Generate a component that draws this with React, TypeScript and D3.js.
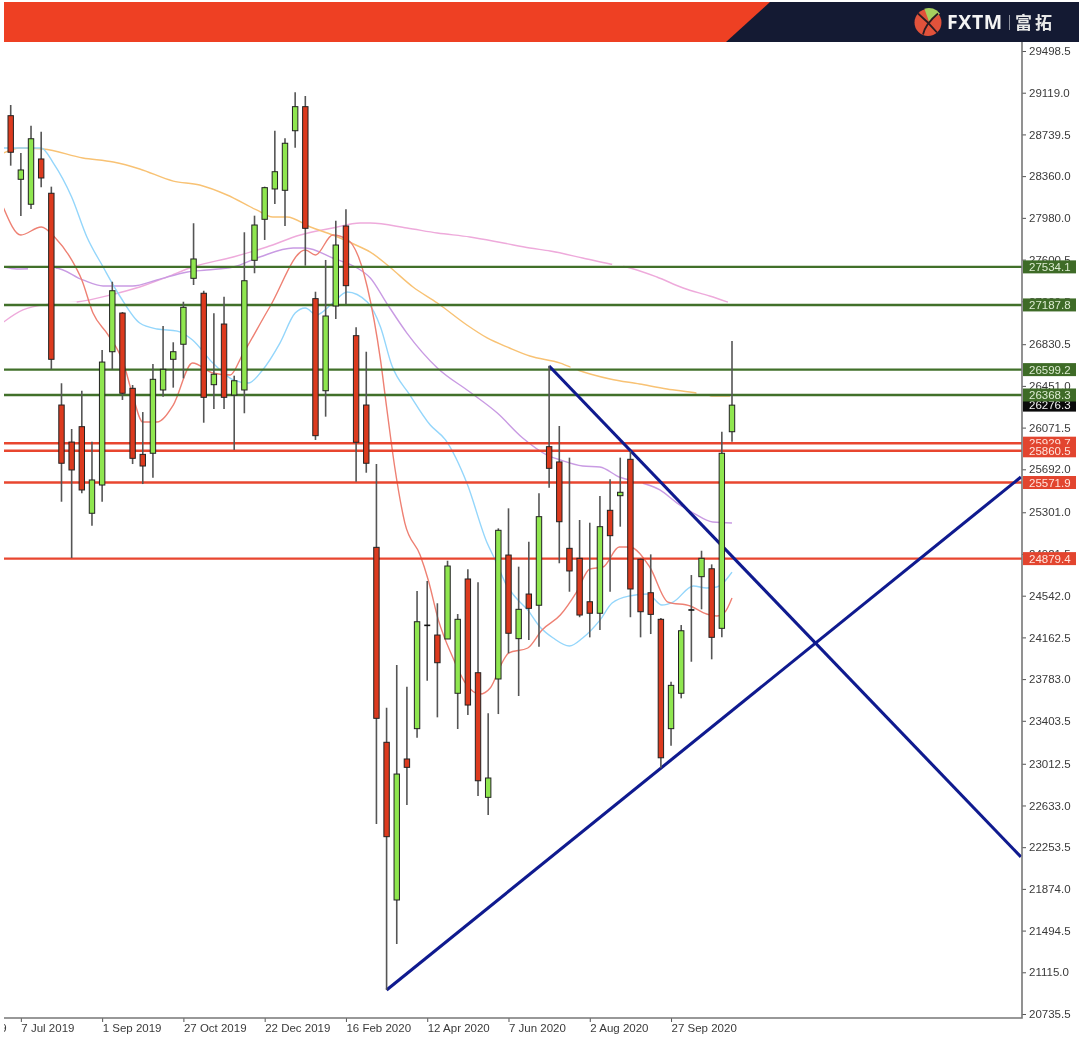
import * as d3 from "d3";
import React, { useEffect, useRef } from "react";

const opens = [
  28910, 28331, 28104, 28516, 28204, 26277, 25940, 26080, 25292, 25549,
  26762, 27114, 26429, 25828, 25838, 26414, 26693, 26830, 27430, 27294,
  26462, 27014, 26368, 26414, 27594, 27967, 28243, 28231, 28773, 28992,
  27245, 26407, 27178, 27906, 26908, 26277, 24982, 23208, 21773, 23056,
  23332, 24272, 24184, 24148, 23654, 24694, 23841, 22707, 23784, 24912,
  24151, 24557, 24455, 25898, 25759, 24973, 24882, 24487, 24382, 25319,
  25452, 25783, 24873, 24569, 24327, 23332, 23654, 24412, 24715, 24787,
  24245, 26034,
];
const closes = [
  28577, 28416, 28700, 28343, 26693, 25747, 25686, 25504, 25595, 26668,
  27317, 26384, 25792, 25722, 26511, 26602, 26762, 27166, 27606, 26347,
  26557, 26347, 26498, 27408, 27915, 28255, 28400, 28659, 28992, 27885,
  25998, 27087, 27733, 27363, 25938, 25747, 23426, 22349, 22919, 22980,
  24305, 24272, 23932, 24812, 24327, 23547, 22858, 22883, 25137, 24200,
  24418, 24427, 25261, 25701, 25215, 24767, 24366, 24382, 25170, 25088,
  25483, 24603, 24396, 24372, 23067, 23726, 24223, 24412, 24882, 24163,
  25838, 26276,
];
const highs = [
  29007, 28570, 28819, 28764, 28264, 26475, 26059, 26407, 25943, 26778,
  27399, 27123, 26459, 26213, 26650, 26996, 26848, 27217, 27931, 27317,
  27112, 27263, 26544, 27849, 28000, 28264, 28773, 28704, 29123, 29089,
  27308, 27597, 27954, 28058, 26984, 26762, 25740, 23523, 23911, 23714,
  24585, 24676, 24473, 24860, 24375, 24782, 24664, 23472, 25155, 25337,
  24806, 25033, 25474, 26635, 26086, 25798, 25231, 25206, 25449, 25601,
  25798, 25861, 24882, 24918, 24339, 23759, 24275, 24730, 24951, 24827,
  26034, 26859,
];
const lows = [
  28455, 27997, 28061, 28258, 26602, 25397, 24885, 25474, 25179, 25397,
  26602, 26323, 25740, 25558, 25616, 26353, 26435, 26520, 27369, 26116,
  26241, 26241, 25868, 26202, 27476, 27779, 28106, 27906, 28619, 27545,
  25959, 26171, 27060, 27196, 25579, 25661, 22464, 20954, 21372, 22637,
  23250, 23768, 23435, 24148, 23329, 23456, 22719, 22546, 23465, 24018,
  23629, 24139, 24078, 25525, 24837, 24578, 24346, 24163, 24230, 24578,
  25170, 24346, 24163, 24193, 22971, 23177, 23608, 23941, 24418, 23963,
  24163, 25943,
];

// moving averages as [week index, price]
const maRed: [number, number][] = [
  [-0.7, 28070], [1, 27824], [3, 27897], [4.4, 27797], [6, 27597], [7, 27415], [8.1, 27114],
  [9.6, 26914], [11.1, 26659], [12, 26368], [13, 26122], [14.4, 26122], [16, 26277], [17.9, 26659],
  [19.9, 26568], [21.6, 26550], [22.8, 26732], [25.5, 27169], [29, 27688], [30, 27642], [31.7, 27824],
  [33.2, 27779], [35.1, 27351], [36.4, 26687], [37, 26259], [37.8, 25713], [38.8, 25203], [40.3, 24912],
  [41.1, 24685], [42.1, 24320], [43.5, 23984], [44.7, 23756], [46.2, 23647], [47.2, 23702], [48.4, 23938],
  [49, 24020], [50.9, 24066], [52.3, 24230], [54.1, 24366], [55.7, 24575], [57, 24785], [58.3, 24803],
  [59.9, 24985], [60.9, 24985], [62.9, 24803], [64.7, 24484], [66.9, 24448], [68.5, 24375], [69.5, 24357],
  [70.3, 24393], [71, 24521],
];
const maBlue: [number, number][] = [
  [-0.7, 28616], [0.2, 28616], [3, 28616], [4.2, 28479], [6, 28170], [7.5, 27806], [9.1, 27533],
  [10.8, 27260], [12.7, 27023], [14.4, 26969], [16.4, 26950], [17.9, 26869], [19.9, 26659], [21.9, 26505],
  [23.4, 26477], [24.8, 26596], [26.5, 26841], [28, 27114], [29, 27160], [30.1, 27096], [31.7, 27205],
  [33.1, 27305], [35.1, 27214], [36.4, 26987], [37.5, 26641], [39.3, 26368], [41.3, 26095], [42.8, 25959],
  [44.9, 25567], [46.9, 25021], [47.7, 24866], [48.7, 24657], [49.5, 24548], [50.9, 24411], [52.1, 24257],
  [53.4, 24157], [55, 24084], [56.3, 24157], [58, 24320], [59.2, 24475], [60.9, 24539], [62.7, 24557],
  [64.1, 24457], [65.2, 24484], [67.2, 24630], [68.5, 24612], [69.5, 24621], [71, 24757],
];
const maOrange: [number, number][] = [
  [-0.7, 28570], [0.9, 28616], [3.2, 28607], [7.1, 28525], [10.1, 28488], [12.7, 28425], [16, 28315],
  [18.6, 28279], [21.3, 28188], [24.2, 28052], [25.8, 27988], [27.2, 27988], [29.5, 27897], [31.7, 27824],
  [34.4, 27715], [35.4, 27669], [37.3, 27533], [39.6, 27351], [42, 27205], [44.9, 27005], [46.9, 26887],
  [49.1, 26796], [51.1, 26723], [54.1, 26659], [55.8, 26596], [59, 26514], [61.9, 26468], [64.6, 26423],
  [67.5, 26386], [69, 26359], [70.8, 26359],
];
const maPurple: [number, number][] = [
  [-0.7, 27533], [0.6, 27515], [4.4, 27524], [7.1, 27415], [9.1, 27360], [12, 27360], [14.4, 27415],
  [17.4, 27487], [19.3, 27506], [21.9, 27533], [24.5, 27624], [27.8, 27706], [29, 27706], [31.7, 27615],
  [34.1, 27524], [35.4, 27433], [37, 27205], [39, 26932], [42, 26614], [45.2, 26395], [47.9, 26204],
  [50.4, 25977], [52.8, 25822], [54.1, 25777], [56.3, 25722], [58, 25713], [59.9, 25622], [62.2, 25567],
  [63.9, 25504], [65.6, 25385], [67.2, 25294], [69.1, 25212], [71, 25203],
];
const maPink: [number, number][] = [
  [-0.7, 27032], [1.2, 27142], [3.9, 27196], [6.5, 27214], [9.8, 27278], [12.7, 27351], [15.4, 27442],
  [17.9, 27533], [21.9, 27624], [25.2, 27715], [28.5, 27824], [31.7, 27888], [34.4, 27933], [35.4, 27933],
  [39, 27888], [42, 27842], [45.2, 27806], [48.5, 27751], [51.1, 27706], [53.1, 27678], [56.3, 27615],
  [59, 27560], [60.6, 27533], [63.6, 27442], [66.2, 27342], [68.8, 27269], [70.6, 27214],
];

const trendDown: [number, number][] = [[53, 26632], [99.44, 22165]];
const trendUp: [number, number][] = [[37, 20954], [99.44, 25622]];

const greenLevels = [27534.1, 27187.8, 26599.2, 26368.3];
const redLevels = [25929.7, 25860.5, 25571.9, 24879.4];
const lastPrice = 26276.3;

// places where the averages are wiped out next to a level line: [price, from week, to week]
const levelGaps = [
  [27534.1, 1.7, 4.4],
  [27187.8, 3.9, 6.5],
  [27534.1, 59.2, 60.3],
  [26599.2, 55.1, 55.8],
  [26368.3, 67.5, 68.8],
  [25571.9, 61.2, 62.2],
];

const priceTicks = [
  29498.5, 29119.0, 28739.5, 28360.0, 27980.0, 27600.5, 27220.5, 26830.5, 26451.0, 26071.5, 25692.0, 25301.0,
  24921.5, 24542.0, 24162.5, 23783.0, 23403.5, 23012.5, 22633.0, 22253.5, 21874.0, 21494.5, 21115.0, 20735.5,
];
const dateTickIndex = [-7, 1, 9, 17, 25, 33, 41, 49, 57, 65];
const dateLabels = [
  "12 May 2019", "7 Jul 2019", "1 Sep 2019", "27 Oct 2019", "22 Dec 2019",
  "16 Feb 2020", "12 Apr 2020", "7 Jun 2020", "2 Aug 2020", "27 Sep 2020",
];

const CONFIG = {
  width: 1080,
  height: 1039,
  left: 4,
  axisX: 1022,
  axisY: 1018,
  font: "'Liberation Sans', sans-serif",
};

const App: React.FC = () => {
  const svgRef = useRef<SVGSVGElement>(null);

  useEffect(() => {
    const svg = d3.select(svgRef.current);
    svg.selectAll("*").remove();

    const x = d3.scaleLinear().domain([0, 71]).range([10.7, 732]);
    const y = d3.scaleLinear().domain([20735.5, 29498.5]).range([1014, 51]);

    svg
      .append("defs")
      .append("clipPath")
      .attr("id", "plot")
      .append("rect")
      .attr("x", CONFIG.left)
      .attr("y", 42)
      .attr("width", CONFIG.axisX - CONFIG.left)
      .attr("height", CONFIG.height - 42);

    const plot = svg.append("g").attr("clip-path", "url(#plot)");

    const line = d3
      .line<[number, number]>()
      .x((d) => x(d[0]))
      .y((d) => y(d[1]))
      .curve(d3.curveMonotoneX);

    const mas: [[number, number][], string][] = [
      [maPink, "#eeaadb"],
      [maPurple, "#c99be3"],
      [maOrange, "#f8c274"],
      [maBlue, "#94d6fb"],
      [maRed, "#ee8073"],
    ];
    mas.forEach(([pts, color]) => {
      plot.append("path").attr("d", line(pts)).attr("fill", "none").attr("stroke", color).attr("stroke-width", 1.4);
    });

    levelGaps.forEach(([price, from, to]) => {
      plot
        .append("line")
        .attr("x1", x(from))
        .attr("x2", x(to))
        .attr("y1", y(price))
        .attr("y2", y(price))
        .attr("stroke", "#fff")
        .attr("stroke-width", 7);
    });

    const levels = (values: number[], color: string) => {
      values.forEach((v) => {
        plot
          .append("line")
          .attr("x1", CONFIG.left)
          .attr("x2", CONFIG.axisX)
          .attr("y1", y(v))
          .attr("y2", y(v))
          .attr("stroke", color)
          .attr("stroke-width", 2.4);
      });
    };
    levels(greenLevels, "#41702a");
    levels(redLevels, "#e8462f");

    [trendDown, trendUp].forEach((pts) => {
      plot
        .append("path")
        .attr("d", d3.line<[number, number]>().x((d) => x(d[0])).y((d) => y(d[1]))(pts))
        .attr("fill", "none")
        .attr("stroke", "#0f1a8f")
        .attr("stroke-width", 3.1);
    });

    // candles
    const candles = plot.append("g");
    opens.forEach((open, i) => {
      const close = closes[i];
      const up = close >= open;
      const cx = x(i);
      candles
        .append("line")
        .attr("x1", cx)
        .attr("x2", cx)
        .attr("y1", y(highs[i]))
        .attr("y2", y(lows[i]))
        .attr("stroke", "#555")
        .attr("stroke-width", 1.6);
      const top = y(Math.max(open, close));
      const bottom = y(Math.min(open, close));
      if (bottom - top < 0.5) {
        candles
          .append("line")
          .attr("x1", cx - 3)
          .attr("x2", cx + 3)
          .attr("y1", top)
          .attr("y2", top)
          .attr("stroke", "#111")
          .attr("stroke-width", 1.6);
        return;
      }
      candles
        .append("rect")
        .attr("x", cx - 2.7)
        .attr("width", 5.4)
        .attr("y", top)
        .attr("height", bottom - top)
        .attr("fill", up ? "#8fe64f" : "#dc3a1e")
        .attr("stroke", "#222")
        .attr("stroke-width", 1);
    });

    // price axis
    const rightAxis = d3
      .axisRight(y)
      .tickValues(priceTicks)
      .tickFormat(d3.format(".1f") as any)
      .tickSize(4)
      .tickPadding(3);
    const gy = svg.append("g").attr("transform", `translate(${CONFIG.axisX},0)`).call(rightAxis);
    gy.select(".domain").remove();
    gy.selectAll("line").attr("stroke", "#555");
    gy.selectAll("text").attr("fill", "#3a3a3a").attr("font-family", CONFIG.font).attr("font-size", 11.5);

    // date axis
    const bottomAxis = d3
      .axisBottom(x)
      .tickValues(dateTickIndex)
      .tickFormat((_: any, i: number) => dateLabels[i])
      .tickSize(4)
      .tickPadding(2);
    const gx = plot.append("g").attr("transform", `translate(0,${CONFIG.axisY})`).call(bottomAxis);
    gx.select(".domain").remove();
    gx.selectAll("line").attr("stroke", "#555");
    gx.selectAll("text")
      .attr("text-anchor", "start")
      .attr("fill", "#3a3a3a")
      .attr("font-family", CONFIG.font)
      .attr("font-size", 11.5);

    svg
      .append("path")
      .attr("d", `M${CONFIG.axisX},42V${CONFIG.axisY}H${CONFIG.left}`)
      .attr("fill", "none")
      .attr("stroke", "#777")
      .attr("stroke-width", 1.6);

    // value tags on the price axis
    const tag = (v: number, fill: string, color: string) => {
      svg
        .append("rect")
        .attr("x", CONFIG.axisX + 1)
        .attr("y", y(v) - 6.5)
        .attr("width", 53)
        .attr("height", 13)
        .attr("fill", fill);
      svg
        .append("text")
        .attr("x", CONFIG.axisX + 7)
        .attr("y", y(v) + 4.2)
        .attr("fill", color)
        .attr("font-family", CONFIG.font)
        .attr("font-size", 11.5)
        .text(v.toFixed(1));
    };
    tag(lastPrice, "#0a0a0a", "#f2f2f2");
    greenLevels.forEach((v) => tag(v, "#3e6b27", "#dcebd0"));
    redLevels.forEach((v) => tag(v, "#e2452f", "#ffe4dc"));

    // header band
    const header = svg.append("g");
    header.append("rect").attr("x", 4).attr("y", 2).attr("width", 1075).attr("height", 40).attr("fill", "#ee4023");
    header.append("path").attr("d", "M770,2H1079V42H726Z").attr("fill", "#141a33");

    const logo = header.append("g").attr("transform", "translate(928,22.5)");
    logo.append("circle").attr("r", 13.5).attr("fill", "#e1523b");
    logo
      .append("path")
      .attr("d", d3.arc()({ innerRadius: 0, outerRadius: 13.5, startAngle: -0.35, endAngle: 0.95 } as any) as string)
      .attr("transform", "translate(1,-1)")
      .attr("fill", "#a6d05f");
    logo
      .append("path")
      .attr("d", "M-10,-9C-4,-4 3,3 9,10M10,-9C4,-4 -3,3 -5,12")
      .attr("fill", "none")
      .attr("stroke", "#2b1c22")
      .attr("stroke-width", 1.8);
    header
      .append("text")
      .attr("x", 947)
      .attr("y", 29)
      .attr("fill", "#f4f4f4")
      .attr("font-family", "'Open Sans', sans-serif")
      .attr("font-weight", 700)
      .attr("font-size", 19.5)
      .attr("letter-spacing", 0.6)
      .text("FXTM");
    header.append("rect").attr("x", 1009).attr("y", 15).attr("width", 1).attr("height", 15).attr("fill", "#8b8f9c");
    header
      .append("text")
      .attr("x", 1015)
      .attr("y", 29)
      .attr("fill", "#e8e8e8")
      .attr("font-family", "'Noto Sans CJK SC', sans-serif")
      .attr("font-weight", 700)
      .attr("font-size", 17)
      .attr("letter-spacing", 3)
      .text("富拓");
  }, []);

  return (
    <svg
      ref={svgRef}
      width={CONFIG.width}
      height={CONFIG.height}
      style={{ position: "fixed", left: 0, top: 0, display: "block", background: "#fff", filter: "blur(0.6px)" }}
    />
  );
};

export default App;
